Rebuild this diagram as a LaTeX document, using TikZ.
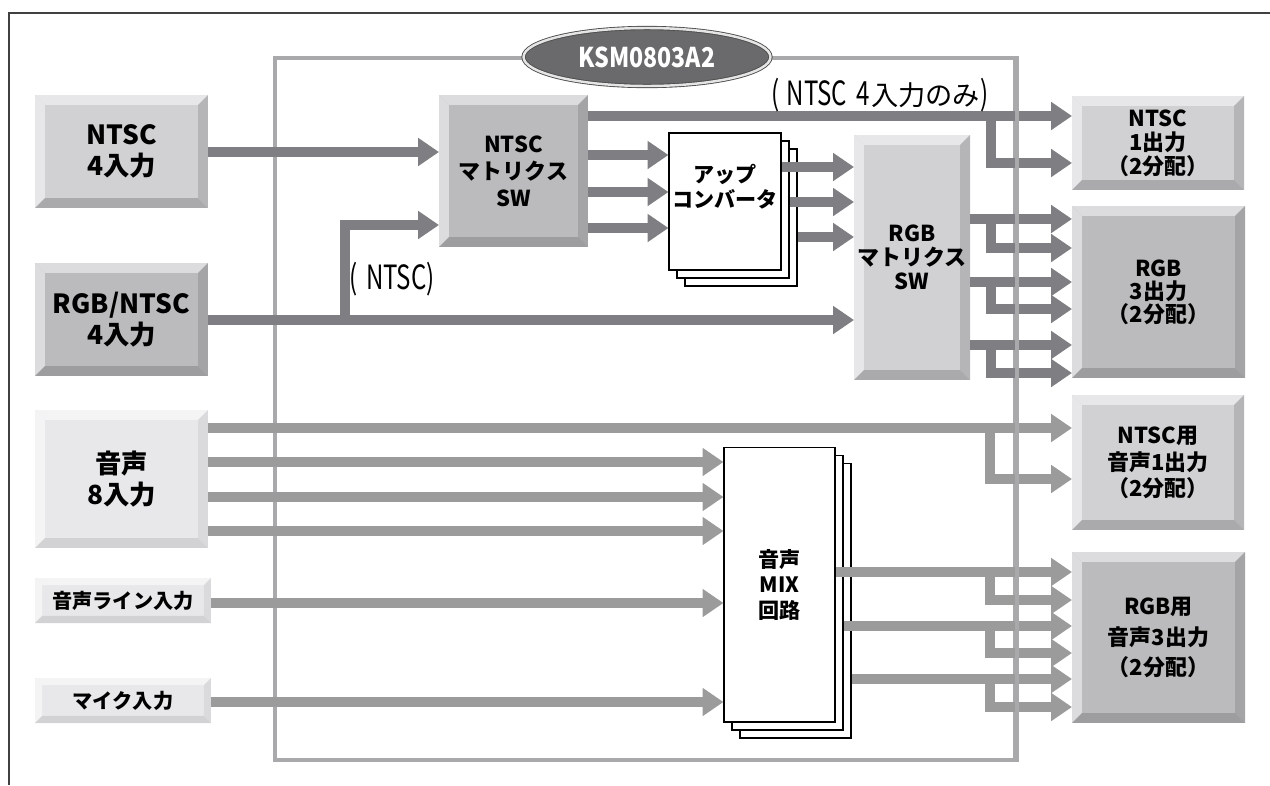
\documentclass[tikz,border=0pt]{standalone}
\usepackage{fontspec}
\setmainfont{Noto Sans CJK JP}[BoldFont={Noto Sans CJK JP Black}]
\newfontfamily\notefont{Noto Sans CJK JP}[FakeStretch=0.72]
\newfontfamily\chipfont{Noto Sans CJK JP}[FakeStretch=0.85]
\usetikzlibrary{arrows.meta,shapes.geometric,shadows}

\definecolor{vidgray}{HTML}{7F7F83}
\definecolor{audgray}{HTML}{9B9B9B}
\definecolor{framegray}{HTML}{A9A9AB}
\definecolor{chipgray}{HTML}{6A6A6C}
\definecolor{toneA}{HTML}{E8E8EA}
\definecolor{toneAhi}{HTML}{F4F4F5}
\definecolor{toneArt}{HTML}{DADADC}
\definecolor{toneAbt}{HTML}{D2D2D4}
\definecolor{toneB}{HTML}{D1D1D3}
\definecolor{toneBhi}{HTML}{E7E7E9}
\definecolor{toneBrt}{HTML}{B5B5B7}
\definecolor{toneBbt}{HTML}{AAAAAC}
\definecolor{toneC}{HTML}{BBBBBD}
\definecolor{toneChi}{HTML}{DCDCDE}
\definecolor{toneCrt}{HTML}{A4A4A6}
\definecolor{toneCbt}{HTML}{9D9D9F}

\newcommand\bevw{5.6pt}
\tikzset{%
  >={Triangle[width=15.3pt,length=11.9pt]},
  % bevelled boxes: face, light edges, right edge, bottom edge
  bevel/.style n args={4}{rectangle, inner sep=0pt, outer sep=0pt,
                   fill=#1, align=center,
      path picture={
        \path (path picture bounding box.north west) coordinate (bvA)
              (path picture bounding box.north east) coordinate (bvB)
              (path picture bounding box.south east) coordinate (bvC)
              (path picture bounding box.south west) coordinate (bvD);
        \fill[#2] (bvA) -- (bvB) -- ([shift={(-\bevw,-\bevw)}]bvB) -- ([shift={(\bevw,-\bevw)}]bvA) -- cycle;
        \fill[#2] (bvA) -- (bvD) -- ([shift={(\bevw,\bevw)}]bvD) -- ([shift={(\bevw,-\bevw)}]bvA) -- cycle;
        \fill[#3] (bvB) -- (bvC) -- ([shift={(-\bevw,\bevw)}]bvC) -- ([shift={(-\bevw,-\bevw)}]bvB) -- cycle;
        \fill[#4] (bvD) -- (bvC) -- ([shift={(-\bevw,\bevw)}]bvC) -- ([shift={(\bevw,\bevw)}]bvD) -- cycle;
      }},
  lightbox/.style = {bevel={toneA}{toneAhi}{toneArt}{toneAbt}},
  midbox/.style   = {bevel={toneB}{toneBhi}{toneBrt}{toneBbt}},
  darkbox/.style  = {bevel={toneC}{toneChi}{toneCrt}{toneCbt}},
  thinbevel/.code = {\def\bevw{4pt}},
  txt/.style 2 args = {font=\bfseries\fontsize{#1}{#2}\selectfont},
  % stacked sheets
  sheet/.style = {rectangle, draw=black, line width=0.6pt, fill=white,
                  inner sep=0pt, align=center,
                  double copy shadow={shadow xshift=0.16cm, shadow yshift=-0.16cm,
                                      draw=black, line width=0.6pt, fill=white}},
  chipframe/.style = {rectangle, draw=framegray, line width=2.55pt,
                      minimum width=14.8cm, minimum height=14.04cm, inner sep=0pt},
  chiplabel/.style = {ellipse, fill=chipgray, draw=black!70, double=white!80!gray,
                      double distance=1.4pt, line width=0.5pt,
                      minimum width=4.94cm, minimum height=1.16cm, inner sep=0pt,
                      text=white, font=\chipfont\bfseries\fontsize{15.5}{15.5}\selectfont},
  vid/.style = {->, draw=vidgray, line width=5.7pt},
  aud/.style = {->, draw=audgray, line width=5.7pt},
  note/.style = {inner sep=0pt, font=\fontsize{15.5}{17}\selectfont},
}

\begin{document}
\begin{tikzpicture}[x=0.02cm, y=-0.02cm]
  \useasboundingbox (0,0) rectangle (1270,785);
  % page edge
  \draw[line width=0.85pt, draw=black!75] (1270,13) -- (9,13) -- (9,785);

  % unit outline
  \node (chip) [chipframe] at (645,409) {};

  % inputs
  \node (ntscIn)  [midbox, txt={15}{17.5}, minimum width=3.46cm, minimum height=2.26cm] at (121.5,151.5) {NTSC\\4入力};
  \node (rgbIn)   [darkbox, txt={15}{17.5}, minimum width=3.46cm, minimum height=2.26cm] at (121.5,319.5) {RGB/NTSC\\4入力};
  \node (audioIn) [lightbox, txt={15}{17.5}, minimum width=3.46cm, minimum height=2.76cm] at (121.5,479) {音声\\8入力};
  \node (lineIn)  [lightbox, thinbevel, txt={11.5}{14}, minimum width=3.52cm, minimum height=0.9cm] at (123,600.5) {音声ライン入力};
  \node (micIn)   [lightbox, thinbevel, txt={11.5}{14}, minimum width=3.52cm, minimum height=0.9cm] at (123,700.5) {マイク入力};

  % processing
  \node (ntscSW) [darkbox, txt={12.5}{15.3}, minimum width=2.98cm, minimum height=3.04cm] at (513.5,171) {NTSC\\マトリクス\\SW};
  \node (upconv) [sheet, txt={12}{14}, minimum width=2.24cm, minimum height=2.74cm] at (725,201.5) {アップ\\コンバータ\\[4pt]\mbox{}};
  \node (rgbSW)  [midbox, txt={12.5}{13.5}, minimum width=2.32cm, minimum height=4.9cm] at (912,257.5) {RGB\\マトリクス\\SW};
  \node (mix)    [sheet, txt={12}{14.5}, minimum width=2.22cm, minimum height=5.5cm] at (779.5,584.5) {音声\\MIX\\回路};

  % outputs
  \node (ntscOut)      [midbox, txt={12.5}{13.6}, minimum width=3.44cm, minimum height=1.88cm] at (1158,143) {NTSC\\1出力\\（2分配）};
  \node (rgbOut)       [darkbox, txt={12.5}{13.2}, minimum width=3.46cm, minimum height=3.44cm] at (1158.5,292) {RGB\\3出力\\（2分配）};
  \node (audioNtscOut) [midbox, txt={12.5}{15.3}, minimum width=3.44cm, minimum height=2.7cm] at (1158,462.5) {NTSC用\\音声1出力\\（2分配）};
  \node (audioRgbOut)  [darkbox, txt={12.5}{17.5}, minimum width=3.46cm, minimum height=3.42cm] at (1158.5,637.5) {RGB用\\音声3出力\\（2分配）};

  % video lines
  \draw[vid] (ntscIn.east |- 0,152) -- (ntscSW.west |- 0,152);
  \draw[vid] (rgbIn.east |- 0,320) -- (rgbSW.west |- 0,320);
  \draw[vid] (rgbIn.east |- 0,320) -- (345,320) |- (ntscSW.west |- 0,225);
  \draw[vid] (ntscSW.east |- 0,116) -- (ntscOut.west |- 0,116);
  \draw[vid] (ntscSW.east |- 0,116) -- (991,116) |- (ntscOut.west |- 0,163);
  \foreach \y in {155,192,228}
    \draw[vid] (ntscSW.east |- 0,\y) -- (upconv.west |- 0,\y);
  \foreach \y/\s in {167/0,202/8,237/16}
    \draw[vid] (upconv.east |- 0,\y) ++(\s,0) -- (rgbSW.west |- 0,\y);
  \foreach \a/\b in {219/248,282/309,345/373} {
    \draw[vid] (rgbSW.east |- 0,\a) -- (rgbOut.west |- 0,\a);
    \draw[vid] (rgbSW.east |- 0,\a) -- (991,\a) |- (rgbOut.west |- 0,\b);
  }

  % audio lines
  \draw[aud] (audioIn.east |- 0,428) -- (audioNtscOut.west |- 0,428);
  \draw[aud] (audioIn.east |- 0,428) -- (990,428) |- (audioNtscOut.west |- 0,479);
  \foreach \y in {462,497,531}
    \draw[aud] (audioIn.east |- 0,\y) -- (mix.west |- 0,\y);
  \draw[aud] (lineIn.east |- 0,603) -- (mix.west |- 0,603);
  \draw[aud] (micIn.east |- 0,702) -- (mix.west |- 0,702);
  \foreach \a/\b/\s in {572/600/0,626/653/8,679/707/16} {
    \draw[aud] (mix.east |- 0,\a) ++(\s,0) -- (audioRgbOut.west |- 0,\a);
    \draw[aud] (mix.east |- 0,\a) ++(\s,0) -- (990,\a) |- (audioRgbOut.west |- 0,\b);
  }

  % right edge of the unit over the lines
  \draw[draw=framegray, line width=2.55pt] (chip.north east) -- (chip.south east);
  \node (chipname) [chiplabel] at (647,57) {KSM0803A2};

  % notes
  \node (onlyNote) [note] at (880,95) {{\notefont\fontsize{19}{19}\selectfont(\hspace{4pt}NTSC\hspace{5pt}4}\hspace{1pt}入力のみ{\notefont\fontsize{19}{19}\selectfont)}};
  \node (ntscNote) [note] at (392,279) {{\notefont\fontsize{19}{19}\selectfont(\hspace{5pt}NTSC)}};
\end{tikzpicture}
\end{document}
